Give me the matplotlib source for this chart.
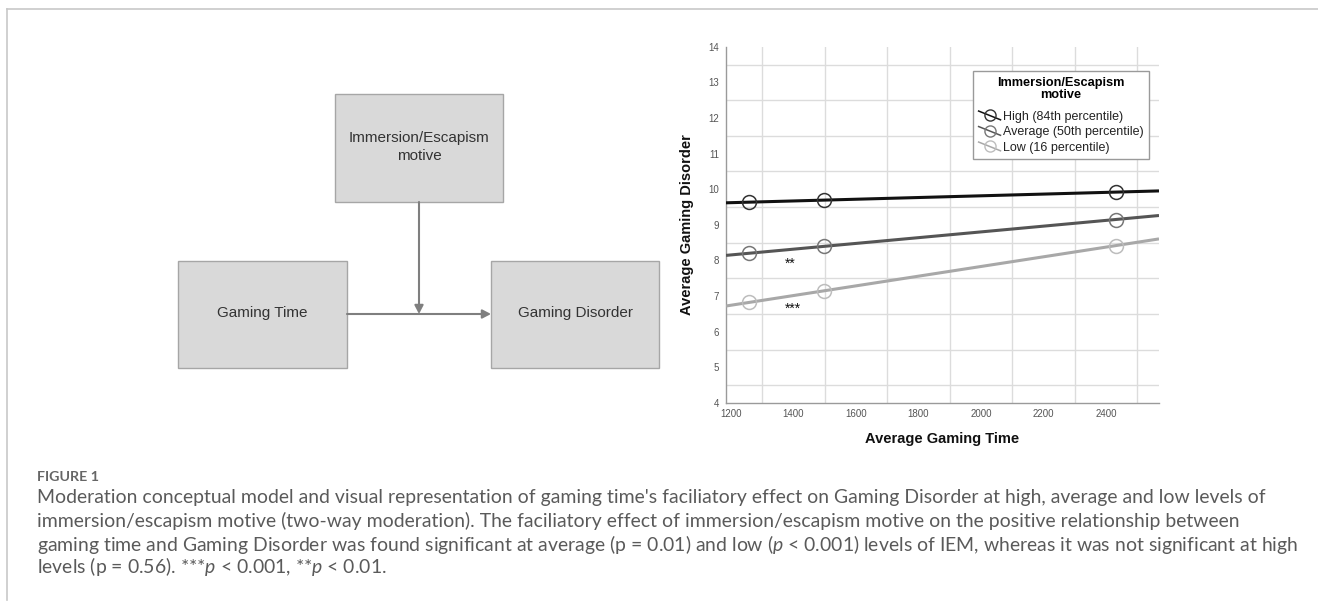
import numpy as np
import matplotlib
matplotlib.use("Agg")
import matplotlib.pyplot as plt
from matplotlib.lines import Line2D
from matplotlib.patches import Rectangle, FancyArrowPatch
from matplotlib.legend_handler import HandlerBase

plt.rcParams['font.family'] = ['Liberation Sans', 'DejaVu Sans']
plt.rcParams['mathtext.fontset'] = 'custom'
plt.rcParams['mathtext.it'] = 'Lato:italic'
plt.rcParams['mathtext.rm'] = 'Lato'

# ---------------- data ----------------
gaming_time = [1258, 1498, 2432]
levels = ["High (84th percentile)", "Average (50th percentile)", "Low (16 percentile)"]
gd_high = [9.64, 9.69, 9.92]
gd_avg = [8.20, 8.40, 9.15]
gd_low = [6.83, 7.14, 8.42]
x_ticks = [1200, 1400, 1600, 1800, 2000, 2200, 2400]
y_ticks = [4, 5, 6, 7, 8, 9, 10, 11, 12, 13, 14]
stars = ["**", "***"]
star_pos_x = [1389, 1398]
star_pos_y = [7.92, 6.64]

W, H = 1318, 603
fig = plt.figure(figsize=(W / 100, H / 100), dpi=100)
fig.patch.set_facecolor("white")

def fx(px):
    return px / W

def fy(py):
    return 1 - py / H

# frame lines
fig.add_artist(Line2D([fx(7), 1.0], [fy(9), fy(9)], color="#c8c8c8", lw=1.2))
fig.add_artist(Line2D([fx(7), fx(7)], [fy(9), fy(600)], color="#c8c8c8", lw=1.2))

# ---------------- conceptual diagram ----------------
dax = fig.add_axes([0, 0, 1, 1], zorder=0)
dax.set_xlim(0, W)
dax.set_ylim(H, 0)
dax.axis("off")

box_fc = "#d9d9d9"
box_ec = "#a6a6a6"
boxes = [
    (335, 94, 168, 108, "Immersion/Escapism\nmotive", 147),
    (178, 261, 169, 107, "Gaming Time", 313),
    (491, 261, 168, 107, "Gaming Disorder", 313),
]
for (x0, y0, w, h, label, ty) in boxes:
    dax.add_patch(Rectangle((x0, y0), w, h, facecolor=box_fc, edgecolor=box_ec, lw=1.0))
    dax.text(x0 + w / 2, ty, label, ha="center", va="center", fontsize=11,
             color="#333333", linespacing=1.4)

arrow_col = "#7f7f7f"
dax.add_patch(FancyArrowPatch((347, 314), (491, 314), arrowstyle="-|>,head_length=5,head_width=2.6",
                              color=arrow_col, lw=1.5, shrinkA=0, shrinkB=0, mutation_scale=1))
dax.add_patch(FancyArrowPatch((419, 202), (419, 314), arrowstyle="-|>,head_length=5,head_width=2.6",
                              color=arrow_col, lw=1.5, shrinkA=0, shrinkB=0, mutation_scale=1))

# ---------------- caption ----------------
cap_col = "#5a5a5a"
fig_lab = dax.text(37, 477, "FIGURE 1", fontsize=10.3, color="#666666", va="center", ha="left",
                   family="Lato", fontweight="bold")
cap_lines = [
    "Moderation conceptual model and visual representation of gaming time's faciliatory effect on Gaming Disorder at high, average and low levels of",
    "immersion/escapism motive (two-way moderation). The faciliatory effect of immersion/escapism motive on the positive relationship between",
    "gaming time and Gaming Disorder was found significant at average (p = 0.01) and low ($\\mathit{p}$ < 0.001) levels of IEM, whereas it was not significant at high",
    "levels (p = 0.56). ***$\\mathit{p}$ < 0.001, **$\\mathit{p}$ < 0.01.",
]
cap_texts = []
for i, line in enumerate(cap_lines):
    cap_texts.append(dax.text(37, 498 + 23 * i, line, fontsize=13, color=cap_col, va="center",
                              ha="left", family="Lato"))
# fit caption width to the reference column width (line 1 spans 37..1263 px)
renderer = fig.canvas.get_renderer()
w1 = cap_texts[0].get_window_extent(renderer).width
scale = (1263 - 37) / w1
for t in cap_texts:
    t.set_fontsize(13 * scale)

# ---------------- simple slopes chart ----------------
ax_l, ax_r, ax_t, ax_b = 726, 1159, 46.7, 403
ax = fig.add_axes([fx(ax_l), fy(ax_b), fx(ax_r - ax_l), (ax_b - ax_t) / H], zorder=2)
ax.set_facecolor("none")
xmin, xmax = 1184, 2570
ax.set_xlim(xmin, xmax)
ax.set_ylim(4, 14)

ax.set_xticks(x_ticks)
ax.set_yticks(y_ticks)
ax.set_xticks(np.arange(1300, 2600, 200), minor=True)
ax.set_yticks(np.arange(4.5, 14, 1.0), minor=True)
ax.grid(False)
ax.grid(True, which="minor", color="#dcdcdc", lw=1.0)
ax.tick_params(which="both", length=0)
ax.tick_params(axis="x", labelsize=7, labelcolor="#555555", pad=4)
ax.tick_params(axis="y", labelsize=7, labelcolor="#555555", pad=5)
for s in ["top", "right"]:
    ax.spines[s].set_visible(False)
for s in ["left", "bottom"]:
    ax.spines[s].set_color("#9a9a9a")
    ax.spines[s].set_linewidth(1.0)

ax.set_xlabel("Average Gaming Time", fontsize=10.5, fontweight="bold", color="#111111", labelpad=10)
ax.set_ylabel("Average Gaming Disorder", fontsize=10.5, fontweight="bold", color="#111111", labelpad=10)

series = [gd_high, gd_avg, gd_low]
line_cols = ["#111111", "#555555", "#a8a8a8"]
mark_cols = ["#333333", "#777777", "#bdbdbd"]
xx = np.array([xmin, xmax])
for vals, lc, mc in zip(series, line_cols, mark_cols):
    k, b = np.polyfit(gaming_time, vals, 1)
    ax.plot(xx, k * xx + b, color=lc, lw=2.2, zorder=3, solid_capstyle="butt")
    ax.plot(gaming_time, vals, ls="none", marker="o", ms=10, mfc="none", mec=mc, mew=1.1, zorder=4)

for s, sx, sy in zip(stars, star_pos_x, star_pos_y):
    ax.text(sx, sy, s, fontsize=10, color="#111111", ha="center", va="center")


class DiagHandler(HandlerBase):
    def create_artists(self, legend, orig_handle, xdescent, ydescent, width, height, fontsize, trans):
        col_l, col_m = orig_handle
        cx = width * 0.5 - xdescent
        cy = height * 0.5 - ydescent
        ln = Line2D([-xdescent, width - xdescent], [height * 1.0 - ydescent, -ydescent + height * 0.0],
                    color=col_l, lw=1.1, transform=trans)
        mk = Line2D([cx], [cy], marker="o", ms=8, mfc="none", mec=col_m, mew=1.0, ls="none", transform=trans)
        return [ln, mk]


handles = [(lc, mc) for lc, mc in zip(line_cols, mark_cols)]
leg = ax.legend(handles, levels, handler_map={tuple: DiagHandler()},
                title="Immersion/Escapism\nmotive", loc="upper left",
                bbox_to_anchor=((973 - ax_l) / (ax_r - ax_l), 1 - (71 - ax_t) / (ax_b - ax_t)),
                fontsize=9, title_fontproperties={"weight": "bold", "size": 9.2},
                frameon=True, fancybox=False, edgecolor="#9a9a9a", framealpha=1,
                handlelength=1.75, handletextpad=0.2, labelspacing=0.28, borderpad=0.45,
                borderaxespad=0)
leg.get_frame().set_linewidth(1.0)
leg.get_title().set_multialignment("center")
leg.get_title().set_linespacing(1.05)
leg._legend_box.sep = 7
for t in leg.get_texts():
    t.set_color("#222222")

fig.savefig("out.png", dpi=100, facecolor="white")
